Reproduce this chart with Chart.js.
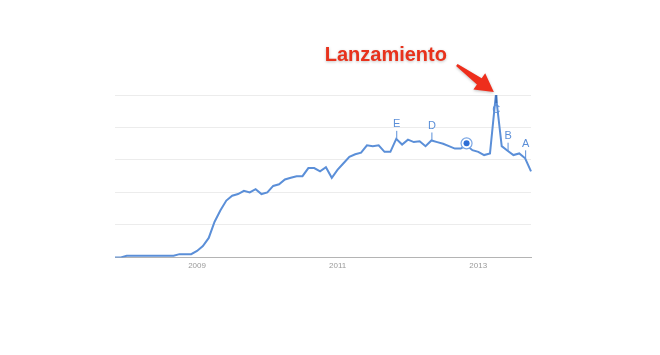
<!DOCTYPE html>
<html>
<head>
<meta charset="utf-8">
<script src="https://cdn.jsdelivr.net/npm/chart.js@4"></script>
<style>
    html, body { margin: 0; padding: 0; background: #fff; }
    #wrap { width: 660px; height: 355px; position: relative; }
</style>
</head>
<body>
<div id="wrap"><canvas id="trendChart"></canvas></div>
<script>
// Monthly categories, Nov 2007 .. Oct 2013
const months = [];
for (let y = 2007; y <= 2013; y++) {
    for (let m = 1; m <= 12; m++) {
        if (y === 2007 && m < 11) continue;
        if (y === 2013 && m > 10) continue;
        months.push(y + '-' + String(m).padStart(2, '0'));
    }
}

// Search interest (0-100)
const interest = [
    0, 0, 1, 1, 1, 1, 1, 1, 1, 1, 1, 2,
    2, 2, 4, 7, 12, 22, 29, 35, 38, 39, 41, 40,
    42, 39, 40, 44, 45, 48, 49, 50, 50, 55, 55, 53,
    55.5, 49, 54, 58, 62, 63.5, 64.5, 69, 68.5, 69, 65, 65,
    73, 69.5, 72.5, 71, 71.5, 68.5, 72, 71, 70, 68.5, 67, 67,
    69, 66, 65, 63, 64, 100, 68.5, 65.7, 63, 64, 61, 53
];

const yearTicks = ['2009', '2011', '2013'];

// News markers on the line
const eventLetters = ['E', 'D', 'C', 'B', 'A'];
const eventIndex = [48, 54, 65, 67, 70];
const forecastIndex = 60;

const launchText = 'Lanzamiento';
const launchIndex = 65;

const BLUE = '#5b8fd8';

const annotationsPlugin = {
    id: 'trendAnnotations',
    afterDatasetsDraw(chart) {
        const { ctx, chartArea } = chart;
        const xs = chart.scales.x;
        const ys = chart.scales.y;

        ctx.save();
        ctx.font = '11px "Liberation Sans", Arial, sans-serif';
        ctx.textAlign = 'center';
        ctx.textBaseline = 'middle';
        eventLetters.forEach((letter, i) => {
            const idx = eventIndex[i];
            const px = xs.getPixelForValue(idx);
            const py = ys.getPixelForValue(interest[idx]);
            const below = py - chartArea.top < 20;
            const dir = below ? 1 : -1;
            ctx.strokeStyle = below ? '#3c6fb8' : BLUE;
            ctx.lineWidth = below ? 2 : 1;
            ctx.beginPath();
            ctx.moveTo(px + 0.5, py);
            ctx.lineTo(px + 0.5, py + dir * 8);
            ctx.stroke();
            ctx.fillStyle = BLUE;
            ctx.fillText(letter, px + 0.5, py + dir * 14.5);
        });

        // forecast dot
        const cx = xs.getPixelForValue(forecastIndex);
        const cy = ys.getPixelForValue(interest[forecastIndex]) - 2;
        ctx.beginPath();
        ctx.arc(cx, cy, 5.5, 0, Math.PI * 2);
        ctx.fillStyle = '#fff';
        ctx.fill();
        ctx.lineWidth = 1.2;
        ctx.strokeStyle = '#7aa6e4';
        ctx.stroke();
        ctx.beginPath();
        ctx.arc(cx, cy, 3, 0, Math.PI * 2);
        ctx.fillStyle = '#2f6fd6';
        ctx.fill();
        ctx.restore();

        // launch label with red arrow pointing at the peak
        const peakX = xs.getPixelForValue(launchIndex);
        const peakY = ys.getPixelForValue(interest[launchIndex]);
        const tip = { x: peakX - 2, y: peakY - 3 };
        const tail = { x: peakX - 39, y: peakY - 30 };
        const dx = tip.x - tail.x, dy = tip.y - tail.y;
        const len = Math.hypot(dx, dy);
        const ux = dx / len, uy = dy / len;
        const nx = -uy, ny = ux;
        const headLen = 18, headW = 10, shaftW = 4, tailW = 1.3;
        const bx = tip.x - ux * headLen, by = tip.y - uy * headLen;

        ctx.save();
        ctx.shadowColor = 'rgba(0,0,0,0.25)';
        ctx.shadowBlur = 3;
        ctx.shadowOffsetY = 1;
        ctx.fillStyle = '#ee2e1c';
        ctx.beginPath();
        ctx.moveTo(tail.x + nx * tailW, tail.y + ny * tailW);
        ctx.lineTo(bx + nx * shaftW, by + ny * shaftW);
        ctx.lineTo(bx + nx * headW, by + ny * headW);
        ctx.lineTo(tip.x, tip.y);
        ctx.lineTo(bx - nx * headW, by - ny * headW);
        ctx.lineTo(bx - nx * shaftW, by - ny * shaftW);
        ctx.lineTo(tail.x - nx * tailW, tail.y - ny * tailW);
        ctx.closePath();
        ctx.fill();

        ctx.font = 'bold 20px "Liberation Sans", Arial, sans-serif';
        ctx.textAlign = 'center';
        ctx.textBaseline = 'middle';
        ctx.fillStyle = '#e8321c';
        ctx.fillText(launchText, peakX - 110, chartArea.top - 40);
        ctx.restore();
    }
};

new Chart(document.getElementById('trendChart'), {
    type: 'line',
    data: {
        labels: months,
        datasets: [{
            data: interest,
            borderColor: BLUE,
            borderWidth: 2,
            pointRadius: 0,
            tension: 0,
            fill: false
        }]
    },
    options: {
        responsive: true,
        maintainAspectRatio: false,
        animation: false,
        layout: {
            padding: { left: 115, right: 129, top: 95, bottom: 80 }
        },
        plugins: {
            legend: { display: false },
            tooltip: { enabled: false }
        },
        scales: {
            x: {
                offset: false,
                grid: { display: false, drawTicks: false },
                border: { color: '#b4b4b4', width: 1 },
                ticks: {
                    autoSkip: false,
                    maxRotation: 0,
                    padding: 4,
                    color: '#9a9a9a',
                    font: { size: 8, family: '"Liberation Sans", Arial, sans-serif' },
                    callback(value, index) {
                        const lab = months[index];
                        const yr = lab.slice(0, 4);
                        return (lab.endsWith('-01') && yearTicks.includes(yr)) ? yr : '';
                    }
                }
            },
            y: {
                min: 0,
                max: 100,
                grid: { color: '#ececec', drawTicks: false },
                border: { display: false },
                ticks: { display: false, stepSize: 20 }
            }
        }
    },
    plugins: [annotationsPlugin]
});
</script>
</body>
</html>
